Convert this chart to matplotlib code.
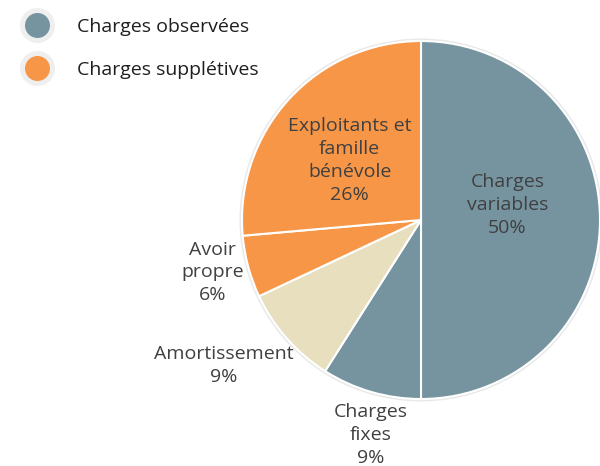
import numpy as np
import matplotlib
matplotlib.use("Agg")
import matplotlib.pyplot as plt
from matplotlib.lines import Line2D
from matplotlib.patches import Circle

# Data
categories = ["Charges\nvariables", "Charges\nfixes", "Amortissement", "Avoir\npropre",
              "Exploitants et\nfamille\nbénévole"]
values = [50.0, 9.0, 9.0, 5.6, 26.4]
groups = ["observées", "observées", "amort", "supplétives", "supplétives"]
legend_labels = ["Charges observées", "Charges supplétives"]

col_obs = "#7594A0"
col_sup = "#F79646"
col_amort = "#E8DFBF"
color_map = {"observées": col_obs, "supplétives": col_sup, "amort": col_amort}
colors = [color_map[g] for g in groups]

plt.rcParams['font.family'] = ['Open Sans', 'DejaVu Sans']

W, H = 600, 466
fig = plt.figure(figsize=(6.0, 4.66), dpi=100)
ax = fig.add_axes([0, 0, 1, 1])

cx, cy, R = 421, H - 220, 179

ax.add_patch(Circle((cx, cy), R + 2.5, facecolor="#E9E9E9", edgecolor="none", zorder=0))
wedges, _ = ax.pie(values, colors=colors, startangle=90, counterclock=False,
                   center=(cx, cy), radius=R,
                   wedgeprops=dict(edgecolor="white", linewidth=1.5), frame=True)
ax.set_xlim(0, W)
ax.set_ylim(0, H)
ax.set_aspect('equal')
ax.axis('off')

# label placement (style): distance factor relative to radius, angular nudge in degrees
dist = [0.49, 1.235, 1.37, 1.20, 0.52]
nudge = [10, 3, -5, -1, 2.5]
total = sum(values)
cum = 0
for i, (lab, v) in enumerate(zip(categories, values)):
    mid = 90 - 360 * (cum + v / 2) / total + nudge[i]
    cum += v
    th = np.deg2rad(mid)
    x = cx + dist[i] * R * np.cos(th)
    y = cy + dist[i] * R * np.sin(th)
    ax.text(x, y, f"{lab}\n{round(v):d}%", ha="center", va="center",
            fontsize=14, color="#404040", linespacing=1.35)

handles = [Line2D([], [], linestyle="none", marker="o", markersize=21.6,
                  markerfacecolor=c, markeredgecolor="#EFEFEF", markeredgewidth=3.6)
           for c in [col_obs, col_sup]]
leg = fig.legend(handles, legend_labels, loc="upper left",
                 bbox_to_anchor=(0.003, 0.995), frameon=False, fontsize=14,
                 labelspacing=1.3, handletextpad=1.05, borderpad=0.6, borderaxespad=0.2,
                 handlelength=2.0)
for t in leg.get_texts():
    t.set_color("#1E1E1E")

fig.savefig("out.png", dpi=100)
